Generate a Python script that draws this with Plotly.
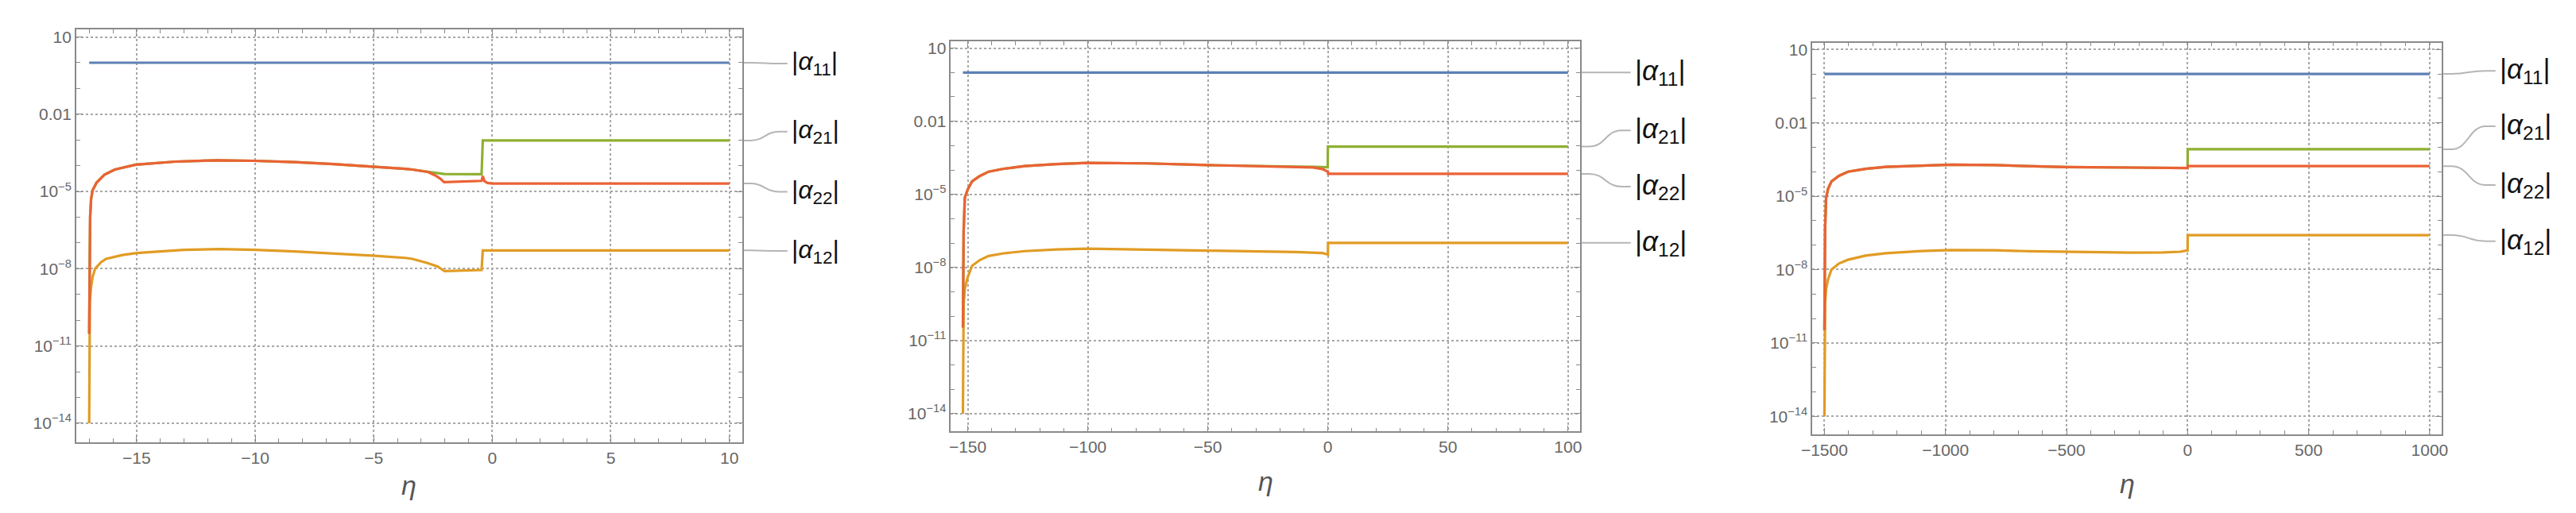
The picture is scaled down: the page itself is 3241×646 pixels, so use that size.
import plotly.graph_objects as go

W, H = 3241, 646

# ---------------- data (log10 of |alpha|) ----------------
# Panel 1: eta in [-17, 10]
p1_eta_a11 = [-17.0, 10.0]
p1_log_a11 = [0.0, 0.0]

p1_eta_a12 = [-17.0, -16.99, -16.97, -16.92, -16.85, -16.75, -16.5, -16.29, -15.6, -15.0, -13.0,
              -11.5, -10.0, -8.34, -6.7, -5.07, -3.67, -3.37, -2.73, -2.3, -2.01, -1.2, -0.45, -0.40, 10.0]
p1_log_a12 = [-14.0, -10.5, -9.3, -8.7, -8.3, -8.0, -7.75, -7.62, -7.47, -7.39, -7.27,
              -7.24, -7.27, -7.33, -7.40, -7.49, -7.58, -7.62, -7.78, -7.92, -8.09, -8.08, -8.05, -7.29, -7.29]

p1_eta_a21 = [-17.0, -16.99, -16.96, -16.92, -16.86, -16.69, -16.36, -15.92, -15.04, -13.36, -11.59,
              -10.03, -8.34, -6.70, -5.07, -3.67, -3.37, -2.7, -2.03, -0.45, -0.40, 10.0]
p1_log_a21 = [-10.53, -8.0, -6.0, -5.3, -4.97, -4.66, -4.35, -4.15, -3.96, -3.84, -3.79,
              -3.81, -3.86, -3.94, -4.03, -4.12, -4.15, -4.23, -4.32, -4.33, -3.02, -3.02]

p1_eta_a22 = [-17.0, -16.99, -16.96, -16.92, -16.86, -16.69, -16.36, -15.92, -15.04, -13.36, -11.59,
              -10.03, -8.34, -6.70, -5.07, -3.67, -3.37, -2.7, -2.4, -2.2, -2.03, -1.2, -0.45, -0.40,
              -0.33, -0.2, 0.0, 10.0]
p1_log_a22 = [-10.53, -8.0, -6.0, -5.3, -4.97, -4.66, -4.35, -4.15, -3.96, -3.84, -3.79,
              -3.81, -3.86, -3.94, -4.03, -4.12, -4.15, -4.25, -4.38, -4.50, -4.64, -4.62, -4.59, -4.40,
              -4.60, -4.67, -4.69, -4.69]

# Panel 2: eta in [-152, 100]
p2_eta_a11 = [-152.0, 100.0]
p2_log_a11 = [0.0, 0.0]

p2_eta_a12 = [-152.0, -151.9, -151.7, -151.2, -150.0, -148.2, -145.0, -141.3, -135.0, -126.3, -113.0,
              -100.2, -88.0, -75.4, -50.1, -32.9, -13.2, -2.3, -0.3, 0.0, 0.05, 100.0]
p2_log_a12 = [-14.0, -10.5, -9.5, -8.87, -8.4, -7.93, -7.70, -7.53, -7.42, -7.33, -7.26,
              -7.23, -7.24, -7.27, -7.31, -7.33, -7.37, -7.41, -7.47, -7.47, -6.99, -6.99]

p2_eta_a21 = [-152.0, -151.9, -151.7, -151.2, -150.0, -148.2, -145.0, -141.3, -135.0, -126.3, -113.0,
              -100.2, -88.0, -75.4, -50.1, -32.9, -13.2, -6.0, -2.3, -0.1, 0.0, 100.0]
p2_log_a21 = [-10.47, -8.0, -6.5, -5.13, -4.8, -4.47, -4.25, -4.07, -3.95, -3.84, -3.76,
              -3.71, -3.71, -3.73, -3.80, -3.84, -3.86, -3.87, -3.88, -3.89, -3.04, -3.04]

p2_eta_a22 = [-152.0, -151.9, -151.7, -151.2, -150.0, -148.2, -145.0, -141.3, -135.0, -126.3, -113.0,
              -100.2, -88.0, -75.4, -50.1, -32.9, -13.2, -6.2, -2.3, -0.3, 0.0, 0.1, 100.0]
p2_log_a22 = [-10.47, -8.0, -6.5, -5.13, -4.8, -4.47, -4.25, -4.07, -3.95, -3.84, -3.76,
              -3.71, -3.71, -3.73, -3.80, -3.84, -3.86, -3.90, -3.96, -4.07, -4.07, -4.16, -4.16]

# Panel 3: eta in [-1500, 1000]
p3_eta_a11 = [-1500.0, 1000.0]
p3_log_a11 = [0.0, 0.0]

p3_eta_a12 = [-1500.0, -1499.0, -1497.0, -1493.0, -1485.0, -1471.0, -1440.0, -1403.0, -1330.0, -1246.0,
              -1100.0, -976.0, -797.0, -650.0, -504.0, -235.0, -100.0, -30.0, -3.0, 0.0, 0.5, 1000.0]
p3_log_a12 = [-14.0, -10.5, -9.4, -8.8, -8.4, -8.0, -7.75, -7.6, -7.43, -7.33,
              -7.24, -7.20, -7.21, -7.25, -7.28, -7.31, -7.30, -7.27, -7.22, -7.22, -6.59, -6.59]

p3_eta_a21 = [-1500.0, -1499.0, -1497.0, -1493.0, -1485.0, -1471.0, -1440.0, -1403.0, -1330.0, -1246.0,
              -1100.0, -976.0, -797.0, -650.0, -504.0, -235.0, -21.0, 0.0, 0.5, 1000.0]
p3_log_a21 = [-10.47, -8.0, -6.3, -5.07, -4.7, -4.4, -4.17, -4.0, -3.88, -3.80,
              -3.74, -3.71, -3.73, -3.77, -3.81, -3.83, -3.83, -3.85, -3.08, -3.08]

p3_eta_a22 = [-1500.0, -1499.0, -1497.0, -1493.0, -1485.0, -1471.0, -1440.0, -1403.0, -1330.0, -1246.0,
              -1100.0, -976.0, -797.0, -650.0, -504.0, -235.0, -21.0, 0.0, 1.0, 1000.0]
p3_log_a22 = [-10.47, -8.0, -6.3, -5.07, -4.7, -4.4, -4.17, -4.0, -3.88, -3.80,
              -3.74, -3.71, -3.73, -3.77, -3.81, -3.83, -3.83, -3.85, -3.77, -3.77]

# axis ticks
ytick_vals = [10, 0.01, 1e-5, 1e-8, 1e-11, 1e-14]
ytick_text = ["10", "0.01", "10<sup>\u22125</sup>", "10<sup>\u22128</sup>",
              "10<sup>\u221211</sup>", "10<sup>\u221214</sup>"]
yminor_vals = [1, 0.1, 1e-3, 1e-4, 1e-6, 1e-7, 1e-9, 1e-10, 1e-12, 1e-13]

series_names = ["a11", "a12", "a21", "a22"]
label_text = {"a11": "|<i>\u03b1</i><sub>11</sub>|", "a12": "|<i>\u03b1</i><sub>12</sub>|",
              "a21": "|<i>\u03b1</i><sub>21</sub>|", "a22": "|<i>\u03b1</i><sub>22</sub>|"}
colors = {"a11": "#5E81B5", "a12": "#E19C24", "a21": "#8FB032", "a22": "#EB6235"}

# ---------------- layout geometry (pixels) ----------------
panels = [
    dict(frame=(74.3, 918.3, 26.6, 548.1), xr=(-17.55, 10.55), dmaj=5, dmin=1,
         data={"a11": (p1_eta_a11, p1_log_a11), "a12": (p1_eta_a12, p1_log_a12),
               "a21": (p1_eta_a21, p1_log_a21), "a22": (p1_eta_a22, p1_log_a22)},
         lab_y={"a11": 69.3, "a21": 155.5, "a22": 231.7, "a12": 306.5},
         call_len=57, lab_font=32, eta_y=603),
    dict(frame=(1182.3, 1979.5, 41.2, 534.8), xr=(-157.04, 105.04), dmaj=50, dmin=10,
         data={"a11": (p2_eta_a11, p2_log_a11), "a12": (p2_eta_a12, p2_log_a12),
               "a21": (p2_eta_a21, p2_log_a21), "a22": (p2_eta_a22, p2_log_a22)},
         lab_y={"a11": 80.5, "a21": 154, "a22": 225, "a12": 296},
         call_len=64, lab_font=35, eta_y=598),
    dict(frame=(2273.6, 3071.0, 42.8, 538.3), xr=(-1550, 1050), dmaj=500, dmin=100,
         data={"a11": (p3_eta_a11, p3_log_a11), "a12": (p3_eta_a12, p3_log_a12),
               "a21": (p3_eta_a21, p3_log_a21), "a22": (p3_eta_a22, p3_log_a22)},
         lab_y={"a11": 78.5, "a21": 148.8, "a22": 223, "a12": 294},
         call_len=68, lab_font=35, eta_y=601),
]
YR = (-14.73, 1.28)

fig = go.Figure()
shapes, annotations = [], []
frame_col = "#8a8a8a"
grid_col = "#a8a8a8"

for i, p in enumerate(panels):
    k = "" if i == 0 else str(i + 1)
    xl, xr_, yt, yb = p["frame"]
    xdom = [xl / W, xr_ / W]
    ydom = [1 - yb / H, 1 - yt / H]
    for s in series_names:
        eta, lg = p["data"][s]
        fig.add_trace(go.Scatter(x=eta, y=[10 ** v for v in lg], mode="lines",
                                 line=dict(color=colors[s], width=3.2),
                                 xaxis="x" + k, yaxis="y" + k, showlegend=False,
                                 hoverinfo="skip"))
    axis_common = dict(showline=True, linecolor=frame_col, linewidth=1.5, mirror="allticks",
                       ticks="inside", ticklen=8, tickwidth=1.2, tickcolor=frame_col,
                       showgrid=True, gridcolor=grid_col, gridwidth=2, griddash="dot",
                       zeroline=False,
                       tickfont=dict(family="Liberation Sans, Arial, sans-serif", size=21, color="#666"))
    fig.layout["xaxis" + k] = dict(axis_common, domain=xdom, range=list(p["xr"]), anchor="y" + k,
                                   tickmode="linear", tick0=0, dtick=p["dmaj"],
                                   minor=dict(dtick=p["dmin"], tick0=0, ticks="inside", ticklen=5,
                                              tickcolor=frame_col, showgrid=False))
    fig.layout["yaxis" + k] = dict(axis_common, domain=ydom, type="log", range=list(YR),
                                   anchor="x" + k, tickmode="array", tickvals=ytick_vals,
                                   ticktext=ytick_text,
                                   minor=dict(tickmode="array", tickvals=yminor_vals, ticks="inside",
                                              ticklen=5, tickcolor=frame_col, showgrid=False))

    # callouts + labels
    def ypix(lv, yt=yt, yb=yb):
        return yb - (lv - YR[0]) / (YR[1] - YR[0]) * (yb - yt)

    L = p["call_len"]
    for s in ["a11", "a21", "a22", "a12"]:
        y0 = ypix(p["data"][s][1][-1])
        y1 = p["lab_y"][s]
        x0 = xr_ + 2
        xa = xr_ + 0.18 * L
        xb = xr_ + 0.82 * L
        xm = (xa + xb) / 2
        x3 = xr_ + L
        P = lambda x, y: f"{x / W:.6f},{1 - y / H:.6f}"
        path = (f"M {P(x0, y0)} L {P(xa, y0)} C {P(xm, y0)} {P(xm, y1)} {P(xb, y1)} "
                f"L {P(x3, y1)}")
        shapes.append(dict(type="path", xref="paper", yref="paper", path=path,
                           line=dict(color="#b5b5b5", width=2)))
        annotations.append(dict(xref="paper", yref="paper", x=(x3 + 3) / W, y=1 - y1 / H,
                                xanchor="left", yanchor="middle", showarrow=False,
                                text=label_text[s],
                                font=dict(family="Liberation Sans, Arial, sans-serif",
                                          size=p["lab_font"], color="#111")))
    annotations.append(dict(xref="paper", yref="paper", x=(xl + xr_) / 2 / W, y=1 - p["eta_y"] / H,
                            xanchor="center", yanchor="middle", showarrow=False,
                            text="<i>\u03b7</i>",
                            font=dict(family="Liberation Sans, Arial, sans-serif", size=34,
                                      color="#555")))

fig.update_layout(width=W, height=H, margin=dict(l=0, r=0, t=0, b=0),
                  paper_bgcolor="white", plot_bgcolor="white",
                  shapes=shapes, annotations=annotations, showlegend=False)

fig.write_html("out.html")
